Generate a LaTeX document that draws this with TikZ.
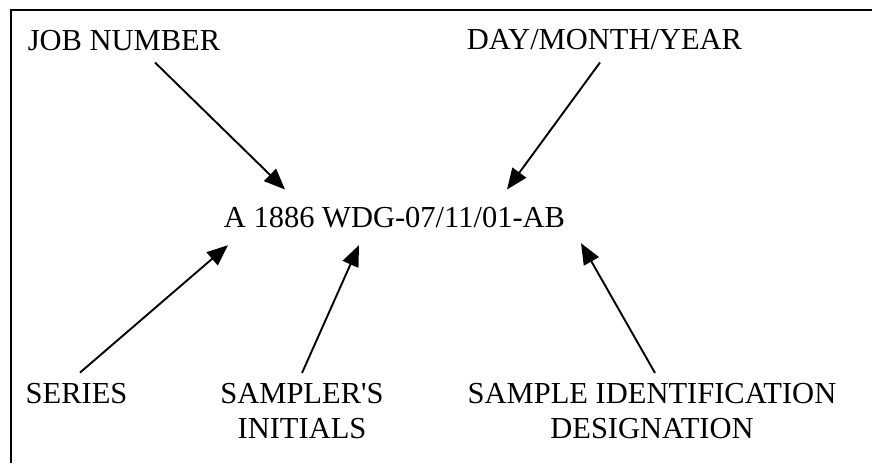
\documentclass[tikz,border=0pt]{standalone}
\usepackage{fontspec}
\setmainfont{Liberation Serif}
\usepackage{tikz}
\usetikzlibrary{positioning, arrows.meta, calc}
\tikzset{
  label/.style={inner sep=0pt, font=\fontsize{30.5}{35}\selectfont, align=center},
  pointer/.style={line width=1.9pt, -{Triangle[length=21pt, width=17pt]}}
}

\begin{document}
\begin{tikzpicture}[x=1pt, y=-1pt,
        code/.style={label, anchor=base},
        frame/.style={line width=1.6pt}]
        \useasboundingbox (0,0) rectangle (872,463);

        % Marco (solo arriba e izquierda)
        \draw [frame] (872,10) -- (11,10) -- (11,463);

        % Codigo de la muestra
        \node (sample) [code] at (394.5,227) {A 1886 WDG-07/11/01-AB};

        % Etiquetas superiores
        \node (job) [label, anchor=base] at (124,50) {JOB NUMBER};
        \node (date) [label, anchor=base] at (604.5,49) {DAY/MONTH/YEAR};

        % Etiquetas inferiores
        \node (series) [label, anchor=base] at (76.5,403) {SERIES};
        \node (sampler) [label, anchor=north] at (302,383) {SAMPLER\textquotesingle S\\INITIALS};
        \node (ident) [label, anchor=north] at (652,383) {SAMPLE IDENTIFICATION\\DESIGNATION};

        % Puntas de flecha sobre el codigo
        \coordinate (jobtip) at ([xshift=-109.5pt, yshift=17pt]sample.north);
        \coordinate (datetip) at ([xshift=112.5pt, yshift=17pt]sample.north);
        \coordinate (seriestip) at ([xshift=-166.5pt, yshift=-17.5pt]sample.south);
        \coordinate (samplertip) at ([xshift=-35.5pt, yshift=-17.5pt]sample.south);
        \coordinate (identtip) at ([xshift=186.5pt, yshift=-15.5pt]sample.south);

        % Flechas
        \draw [pointer] ([xshift=31pt, yshift=-12pt]job.south) -- (jobtip);
        \draw [pointer] ([xshift=-4.5pt, yshift=-13pt]date.south) -- (datetip);
        \draw [pointer] ([xshift=3.5pt, yshift=10pt]series.north) -- (seriestip);
        \draw [pointer] ([yshift=10pt]sampler.north) -- (samplertip);
        \draw [pointer] ([xshift=3pt, yshift=10pt]ident.north) -- (identtip);

\end{tikzpicture}
\end{document}
